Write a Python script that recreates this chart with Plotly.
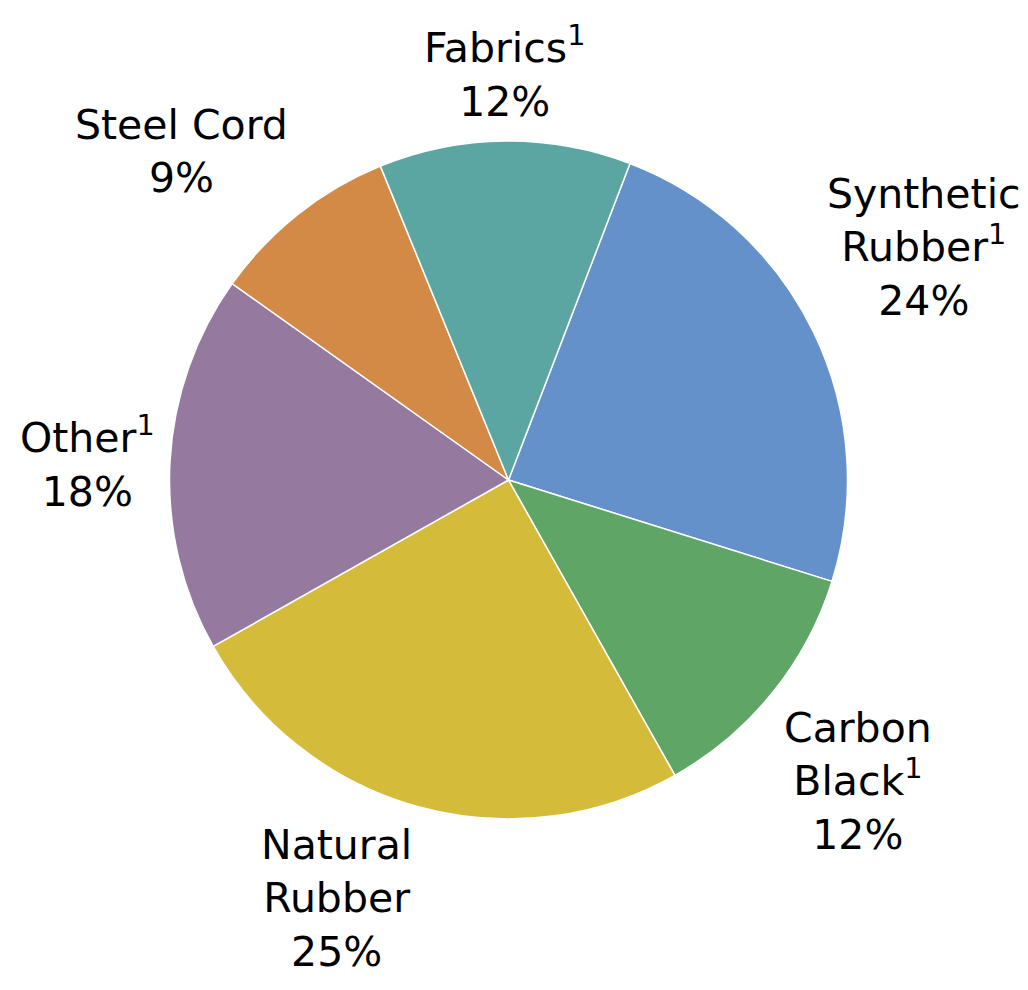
import math
import plotly.graph_objects as go

categories = ["Synthetic Rubber", "Carbon Black", "Natural Rubber", "Other", "Steel Cord", "Fabrics"]
label_text = ["Synthetic<br>Rubber<sup>1</sup>", "Carbon<br>Black<sup>1</sup>", "Natural<br>Rubber",
              "Other<sup>1</sup>", "Steel Cord", "Fabrics<sup>1</sup>"]
shares = [24, 12, 25, 18, 9, 12]
colors = ["#6591CB", "#5EA566", "#D5BB3A", "#95799F", "#D38A47", "#5BA6A2"]

# layout constants (pixels)
W, H = 1028, 990
CX, CY, R = 508.5, 480.0, 339.0
LABEL_R = R + 13
START_DEG = 21

fig = go.Figure(go.Pie(
    labels=categories,
    values=shares,
    textinfo="none",
    sort=False,
    direction="clockwise",
    rotation=START_DEG,
    marker=dict(colors=colors, line=dict(color="white", width=1.5)),
    domain=dict(x=[(CX - R) / W, (CX + R) / W],
                y=[1 - (CY + R) / H, 1 - (CY - R) / H]),
    showlegend=False,
    hoverinfo="label+percent",
))

total = sum(shares)
cum = 0
annotations = []
for txt, v in zip(label_text, shares):
    mid = math.radians(START_DEG + 360 * (cum + v / 2) / total)
    cum += v
    s, c = math.sin(mid), math.cos(mid)
    px = CX + LABEL_R * s
    py = CY - LABEL_R * c
    xanchor = "center" if abs(s) < 0.2 else ("left" if s > 0 else "right")
    yanchor = "middle" if abs(c) < 0.2 else ("bottom" if c > 0 else "top")
    annotations.append(dict(
        x=px / W, y=1 - py / H, xref="paper", yref="paper",
        text=f"{txt}<br>{round(100 * v / total)}%",
        showarrow=False, xanchor=xanchor, yanchor=yanchor, align="center",
        font=dict(family="DejaVu Sans", size=41, color="black"),
    ))

fig.update_layout(
    width=W, height=H,
    margin=dict(l=0, r=0, t=0, b=0),
    paper_bgcolor="white",
    plot_bgcolor="white",
    annotations=annotations,
)

fig.write_html("out.html")
